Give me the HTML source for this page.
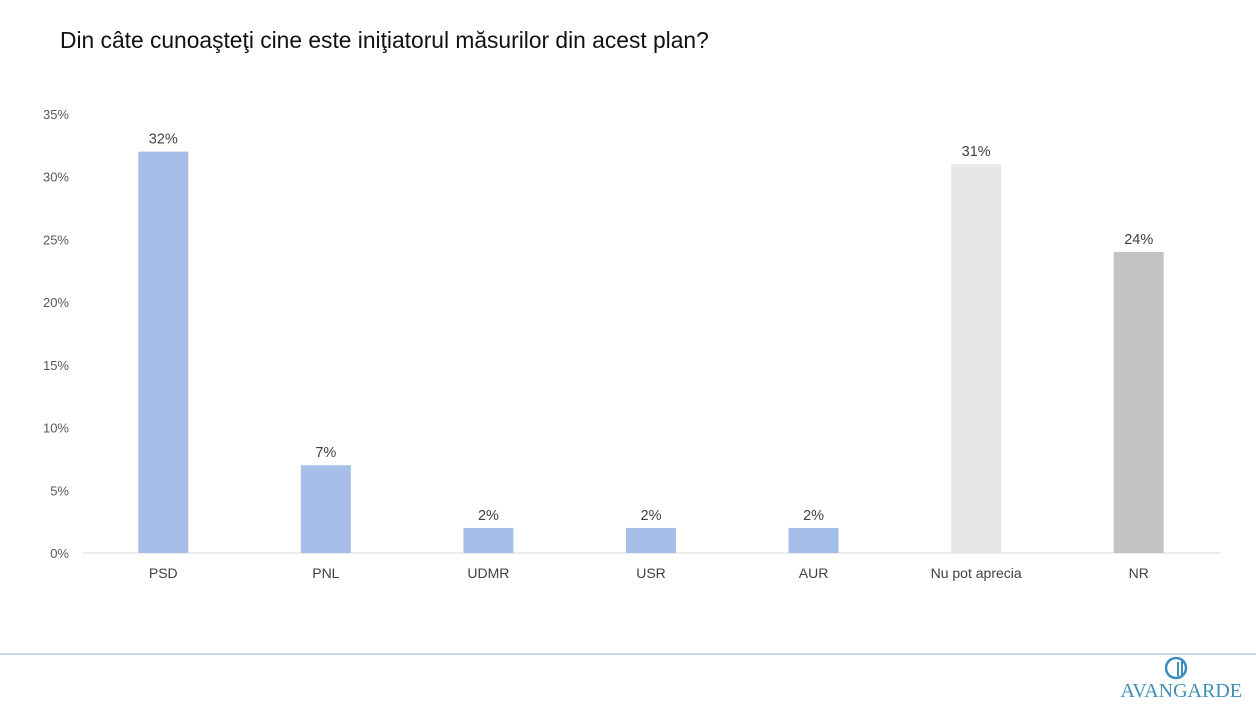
<!DOCTYPE html>
<html><head><meta charset="utf-8"><style>
body{margin:0;width:1256px;height:700px;background:#fff;overflow:hidden;font-family:"Liberation Sans",sans-serif}
</style></head><body>
<svg width="1256" height="700">
<text x="60" y="48" font-size="22.8" fill="#111">Din câte cunoaşteţi cine este iniţiatorul măsurilor din acest plan?</text>
<g id="axis"></g><g id="bars"></g>
<line x1="0" y1="654" x2="1256" y2="654" stroke="#c9d8e8" stroke-width="2"/>
<g>
<circle cx="1176" cy="668" r="10" fill="none" stroke="#3d8fb8" stroke-width="2.5"/>
<line x1="1178" y1="662" x2="1178" y2="676" stroke="#3d8fb8" stroke-width="2"/>
<line x1="1182" y1="660" x2="1182" y2="676" stroke="#3d8fb8" stroke-width="2"/>
<text x="1242" y="697" font-family="Liberation Serif,serif" font-size="20" fill="#3d8fb8" text-anchor="end">AVANGARDE</text>
</g>
</svg>
<script>
const categories=["PSD","PNL","UDMR","USR","AUR","Nu pot aprecia","NR"];
const values=[32,7,2,2,2,31,24];
const colors=["#a7bfe8","#a7bfe8","#a7bfe8","#a7bfe8","#a7bfe8","#e7e7e7","#c2c2c2"];
const ticks=[0,5,10,15,20,25,30,35];
const NS="http://www.w3.org/2000/svg";
const x0=82,x1=1220,yb=553,yt=114,max=35;
const y=v=>yb-(v/max)*(yb-yt);
const step=(x1-x0)/categories.length;
const xc=i=>x0+step*(i+0.5);
function mk(t,a,p){const e=document.createElementNS(NS,t);for(const k in a)e.setAttribute(k,a[k]);p.appendChild(e);return e;}
const ax=document.getElementById('axis'),bg=document.getElementById('bars');
ticks.forEach(t=>{const e=mk('text',{x:69,y:y(t)+5,'font-size':13,fill:'#595959','text-anchor':'end'},ax);e.textContent=t+'%';

});
const base=mk('line',{x1:x0,x2:x1,y1:yb,y2:yb,stroke:'#d9d9d9'},ax);


categories.forEach((c,i)=>{
const r=mk('rect',{x:xc(i)-25,y:y(values[i]),width:50,height:yb-y(values[i]),fill:colors[i]},bg);


const l=mk('text',{x:xc(i),y:y(values[i])-8,'font-size':14.5,fill:'#404040','text-anchor':'middle'},bg);l.textContent=values[i]+'%';


const cl=mk('text',{x:xc(i),y:578,'font-size':14,fill:'#404040','text-anchor':'middle'},bg);cl.textContent=c;


});
</script>
</body></html>
